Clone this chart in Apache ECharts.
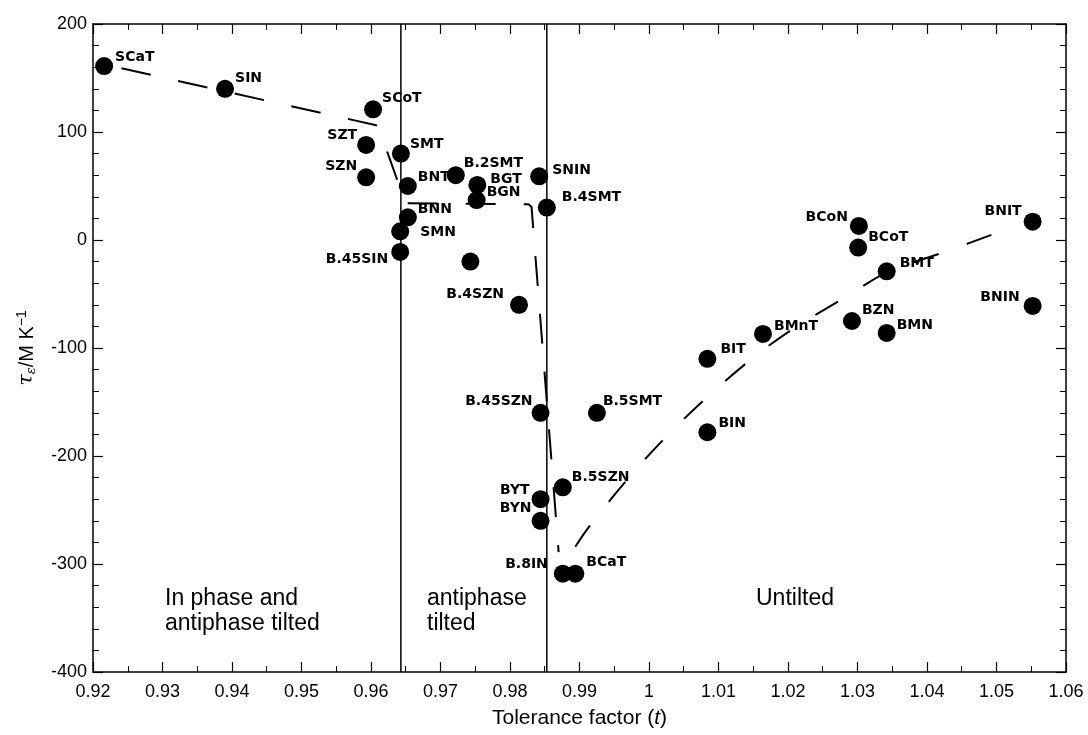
<!DOCTYPE html>
<html>
<head>
<meta charset="utf-8">
<script src="https://cdn.jsdelivr.net/npm/echarts@6/dist/echarts.min.js"></script>
<style>
  html, body { margin: 0; background: #fff; }
  #chart { width: 1088px; height: 735px; }
</style>
</head>
<body>
<div id="chart"></div>
<script>
// compounds, tolerance factor t, temperature coefficient tau_e (MK-1)
const compounds = ['SCaT', 'SIN', 'SCoT', 'SZT', 'SZN', 'SMT', 'BNT', 'BNN', 'SMN', 'B.45SIN',
  'B.2SMT', 'BGT', 'BGN', 'SNIN', 'B.4SMT', '', 'B.4SZN', 'B.45SZN', 'B.5SMT', 'B.5SZN',
  'BYT', 'BYN', 'B.8IN', 'BCaT', 'BIT', 'BIN', 'BMnT', 'BZN', 'BMN', 'BCoN',
  'BCoT', 'BMT', 'BNIT', 'BNIN'];
const tolerance = [0.9216, 0.9390, 0.9603, 0.9593, 0.9593, 0.9643, 0.9653, 0.9653, 0.9642, 0.9642,
  0.9722, 0.9753, 0.9752, 0.9842, 0.9853, 0.9743, 0.9813, 0.9844, 0.9925, 0.9876,
  0.9844, 0.9844, 0.9876, 0.9894, 1.0084, 1.0084, 1.0164, 1.0292, 1.0342, 1.0302,
  1.0301, 1.0342, 1.0552, 1.0552];
const tauE = [161, 140, 121, 88, 58, 80, 50, 21, 8, -11,
  60, 51, 37, 59, 30, -20, -60, -160, -160, -229,
  -240, -260, -309, -309, -110, -178, -87, -75, -86, 13,
  -7, -29, 17, -61];

// dashed guide lines drawn by hand on the original figure
const trendTilted = [[0.9241, 159], [0.9606, 106.5], [0.9610, 105.6], [0.9642, 48], [0.9648, 34],
  [0.9827, 33], [0.9831, 30.6], [0.9870, -289]];
const trendUntilted = [[0.9894, -284], [0.9912, -267], [0.9958, -230], [1.0010, -192],
  [1.0071, -153], [1.0142, -113], [1.0203, -84], [1.0285, -52], [1.0342, -30],
  [1.0430, -10], [1.0498, 6]];

// phase boundaries (tolerance factor)
const boundaries = [0.9643, 0.9853];

const xTicks = { min: 0.92, max: 1.06, step: 0.01 };
const yTicks = { min: -400, max: 200, step: 100 };

// label placement: [align, dx, dy] measured from dot centre
const labelPlace = {
  'SCaT': ['left', 11, -9], 'SIN': ['left', 10, -10], 'SCoT': ['left', 9, -11],
  'SZT': ['right', -9, -10], 'SZN': ['right', -9, -11], 'SMT': ['left', 9, -9],
  'BNT': ['left', 10, -9], 'BNN': ['left', 10, -8], 'SMN': ['left', 20, 1],
  'B.45SIN': ['right', -12, 7], 'B.2SMT': ['left', 8, -12], 'BGT': ['left', 13, -6],
  'BGN': ['left', 10, -8], 'SNIN': ['left', 13, -6], 'B.4SMT': ['left', 15, -10],
  'B.4SZN': ['right', -15, -10], 'B.45SZN': ['right', -8, -11], 'B.5SMT': ['left', 6, -11],
  'B.5SZN': ['left', 9, -10], 'BYT': ['right', -11, -9], 'BYN': ['right', -9, -12],
  'B.8IN': ['right', -15, -9], 'BCaT': ['left', 11, -11], 'BIT': ['left', 13, -9],
  'BIN': ['left', 11, -9], 'BMnT': ['left', 11, -8], 'BZN': ['left', 10, -11],
  'BMN': ['left', 10, -8], 'BCoN': ['right', -11, -9], 'BCoT': ['left', 10, -10],
  'BMT': ['left', 13, -8], 'BNIT': ['right', -11, -10], 'BNIN': ['right', -13, -9]
};

const points = compounds.map(function (name, i) {
  const item = { name: name, value: [tolerance[i], tauE[i]] };
  const p = labelPlace[name];
  if (p) {
    item.label = { show: true, position: 'inside', align: p[0], offset: [p[1], p[2]] };
  }
  return item;
});

const chart = echarts.init(document.getElementById('chart'));

const tickFont = { fontFamily: 'Liberation Sans, Arial, sans-serif', fontSize: 18, color: '#000' };
const axisLine = { show: true, onZero: false, lineStyle: { color: '#000', width: 1.5 } };

function valueAxis(range, extra) {
  return Object.assign({
    type: 'value',
    min: range.min,
    max: range.max,
    interval: range.step,
    axisLine: axisLine,
    axisTick: { show: true, inside: true, length: 10, lineStyle: { color: '#000', width: 1.2 } },
    minorTick: { show: true, length: 6, lineStyle: { color: '#000', width: 1 } },
    splitLine: { show: false }
  }, extra);
}

const boundarySeries = boundaries.map(function (b, i) {
  return {
    name: 'boundary ' + i,
    type: 'line',
    data: [[b, yTicks.min], [b, yTicks.max]],
    showSymbol: false,
    silent: true,
    lineStyle: { color: '#000', width: 1.5 }
  };
});

chart.setOption({
  backgroundColor: '#fff',
  animation: false,
  grid: { left: 93, right: 22, top: 24, bottom: 63, outerBoundsMode: 'none' },
  xAxis: [
    valueAxis(xTicks, {
      position: 'bottom',
      minorTick: { show: true, splitNumber: 2, length: 6, lineStyle: { color: '#000', width: 1 } },
      axisLabel: Object.assign({ margin: 11, formatter: function (v) { return String(parseFloat(v.toFixed(2))); } }, tickFont),
      name: '{n|Tolerance factor (}{i|t}{n|)}',
      nameLocation: 'middle',
      nameGap: 36,
      nameTextStyle: {
        rich: {
          n: { fontFamily: 'Liberation Sans, Arial, sans-serif', fontSize: 21, color: '#000' },
          i: { fontFamily: 'Liberation Sans, Arial, sans-serif', fontSize: 21, fontStyle: 'italic', color: '#000' }
        }
      }
    }),
    valueAxis(xTicks, {
      position: 'top',
      minorTick: { show: true, splitNumber: 2, length: 6, lineStyle: { color: '#000', width: 1 } },
      axisLabel: { show: false }
    })
  ],
  yAxis: [
    valueAxis(yTicks, {
      position: 'left',
      minorTick: { show: true, splitNumber: 5, length: 6, lineStyle: { color: '#000', width: 1 } },
      axisLabel: Object.assign({ margin: 6 }, tickFont),
      name: '{t|τ}{s|ε}{n|/M K}{p|−1}',
      nameLocation: 'middle',
      nameRotate: 90,
      nameGap: 54,
      nameTextStyle: {
        rich: {
          t: { fontFamily: 'DejaVu Serif, serif', fontSize: 21, fontStyle: 'italic', color: '#000' },
          s: { fontFamily: 'DejaVu Serif, serif', fontSize: 13, fontStyle: 'italic', color: '#000', padding: [10, 0, 0, 0] },
          n: { fontFamily: 'Liberation Sans, Arial, sans-serif', fontSize: 20, color: '#000' },
          p: { fontFamily: 'Liberation Sans, Arial, sans-serif', fontSize: 14, color: '#000', padding: [0, 0, 10, 0] }
        }
      }
    }),
    valueAxis(yTicks, {
      position: 'right',
      minorTick: { show: true, splitNumber: 5, length: 6, lineStyle: { color: '#000', width: 1 } },
      axisLabel: { show: false }
    })
  ],
  graphic: [
    { type: 'text', left: 165, top: 586, style: { text: 'In phase and\nantiphase tilted', font: '23px "Liberation Sans", Arial, sans-serif', fill: '#000', lineHeight: 25 } },
    { type: 'text', left: 427, top: 586, style: { text: 'antiphase\ntilted', font: '23px "Liberation Sans", Arial, sans-serif', fill: '#000', lineHeight: 25 } },
    { type: 'text', left: 756, top: 586, style: { text: 'Untilted', font: '23px "Liberation Sans", Arial, sans-serif', fill: '#000', lineHeight: 25 } }
  ],
  series: boundarySeries.concat([
    {
      name: 'trend tilted',
      type: 'line',
      data: trendTilted,
      showSymbol: false,
      silent: true,
      lineStyle: { color: '#000', width: 2, type: [30, 28] }
    },
    {
      name: 'trend untilted',
      type: 'line',
      data: trendUntilted,
      showSymbol: false,
      smooth: 0.3,
      silent: true,
      lineStyle: { color: '#000', width: 2, type: [26, 30] }
    },
    {
      name: 'compounds',
      type: 'scatter',
      data: points,
      symbolSize: 18,
      itemStyle: { color: '#000', opacity: 1 },
      label: {
        show: false,
        formatter: '{b}',
        fontFamily: 'DejaVu Sans, sans-serif',
        fontWeight: 'bold',
        fontSize: 14,
        color: '#000'
      },
      z: 5
    }
  ])
});
</script>
</body>
</html>
